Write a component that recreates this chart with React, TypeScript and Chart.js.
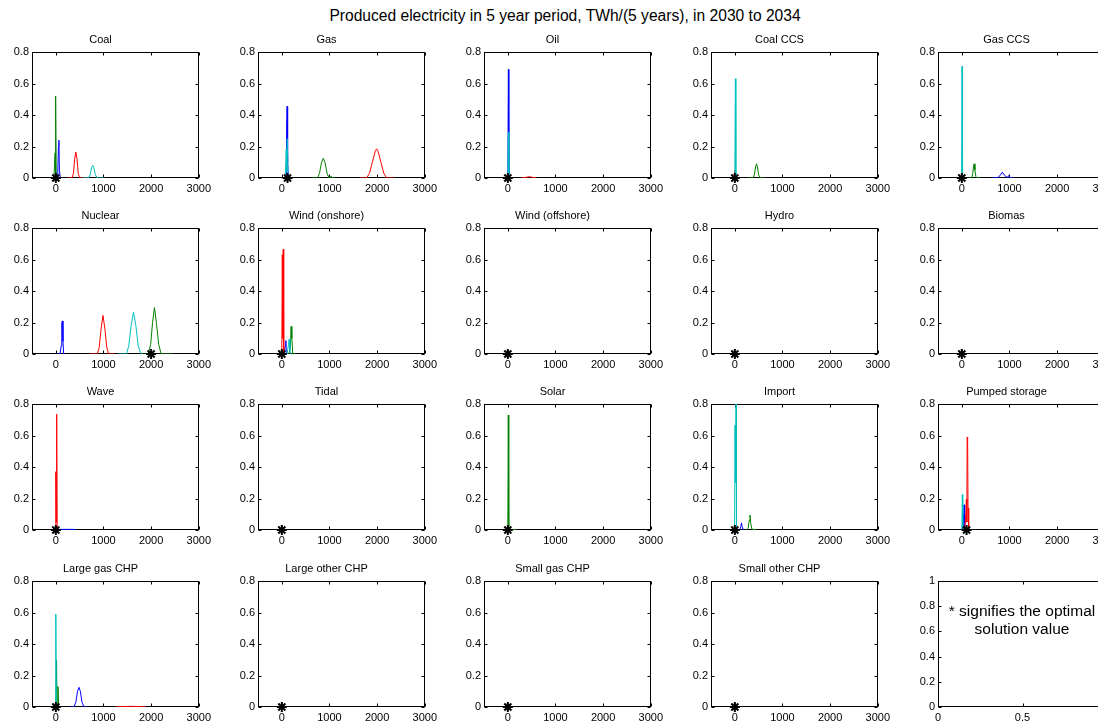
import React, { useEffect, useRef } from 'react';
import { Chart, registerables } from 'chart.js';

Chart.register(...registerables);

// ---------------- data ----------------
const mainTitle = 'Produced electricity in 5 year period, TWh/(5 years), in 2030 to 2034';
const noteLines = ['* signifies the optimal', 'solution value'];

const xTicks = [0, 1000, 2000, 3000];
const yTicks = [0, 0.2, 0.4, 0.6, 0.8];
const xRange = [-500, 3000];
const yRange = [0, 0.8];
const noteXTicks = [0, 0.5, 1];
const noteYTicks = [0, 0.2, 0.4, 0.6, 0.8, 1];

const panelTitles = [
  'Coal', 'Gas', 'Oil', 'Coal CCS', 'Gas CCS',
  'Nuclear', 'Wind (onshore)', 'Wind (offshore)', 'Hydro', 'Biomas',
  'Wave', 'Tidal', 'Solar', 'Import', 'Pumped storage',
  'Large gas CHP', 'Large other CHP', 'Small gas CHP', 'Small other CHP',
];
const optimalValues = [0, 120, 0, 0, 0, 2000, 0, 0, 0, 0, 0, 0, 0, 0, 100, 0, 0, 0, 0];

// distributions [value, probability]
const coalBlue = [[10, 0], [40, 0.02], [55, 0.2], [65, 0.24], [75, 0.05], [95, 0]];
const coalGreen = [[-40, 0], [-15, 0.16], [-8, 0.02], [0, 0.52], [8, 0.01], [40, 0]];
const coalRed = [[250, 0], [340, 0], [370, 0.03], [395, 0.12], [420, 0.165], [445, 0.12], [470, 0.03], [500, 0], [660, 0]];
const coalCyan = [[560, 0], [680, 0], [720, 0.02], [750, 0.065], [775, 0.08], [800, 0.065], [830, 0.02], [870, 0], [1020, 0]];

const gasBlue = [[60, 0], [90, 0.02], [100, 0.3], [110, 0.455], [118, 0.42], [126, 0.1], [140, 0]];
const gasGreen = [[630, 0], [750, 0], [790, 0.03], [835, 0.1], [870, 0.125], [905, 0.1], [950, 0.03], [990, 0], [1040, 0.01], [1060, 0], [1120, 0]];
const gasRed = [[1640, 0], [1780, 0], [1840, 0.03], [1900, 0.1], [1960, 0.17], [1990, 0.185], [2020, 0.17], [2080, 0.1], [2140, 0.03], [2200, 0], [2370, 0]];
const gasCyan = [[70, 0], [92, 0.18], [102, 0.04], [115, 0.25], [130, 0.02], [160, 0]];

const oilBlue = [[0, 0], [12, 0.69], [22, 0]];
const oilRed = [[280, 0], [380, 0.004], [450, 0.008], [520, 0.004], [600, 0]];
const oilCyan = [[0, 0], [12, 0.29], [22, 0]];

const coalCcsGreen = [[280, 0], [380, 0], [410, 0.02], [435, 0.07], [455, 0.09], [475, 0.07], [500, 0.02], [530, 0], [630, 0]];
const coalCcsRed = [[-20, 0], [0, 0.05], [20, 0]];
const coalCcsCyan = [[0, 0], [12, 0.63], [22, 0]];

const gasCcsBlue = [[640, 0], [750, 0.002], [800, 0.015], [850, 0.037], [900, 0.015], [950, 0.004], [990, 0.015], [1010, 0], [1090, 0]];
const gasCcsGreen = [[150, 0], [210, 0], [230, 0.03], [248, 0.08], [260, 0.09], [275, 0.05], [295, 0.01], [320, 0], [400, 0]];
const gasCcsCyan = [[-5, 0], [5, 0.71], [15, 0]];

const nuclearBlue = [[20, 0], [90, 0], [110, 0.05], [125, 0.2], [138, 0.21], [150, 0.08], [165, 0], [200, 0]];
const nuclearGreen = [[1800, 0], [1940, 0], [1990, 0.06], [2030, 0.2], [2070, 0.295], [2110, 0.2], [2160, 0.06], [2210, 0], [2450, 0]];
const nuclearRed = [[720, 0], [870, 0], [910, 0.04], [950, 0.16], [990, 0.245], [1030, 0.16], [1070, 0.04], [1110, 0], [1230, 0]];
const nuclearCyan = [[1310, 0], [1480, 0], [1530, 0.05], [1580, 0.18], [1630, 0.265], [1680, 0.18], [1730, 0.05], [1790, 0]];

const windOnBlue = [[50, 0], [70, 0.05], [85, 0.085], [95, 0], [120, 0]];
const windOnGreen = [[150, 0], [180, 0.05], [195, 0.175], [210, 0.1], [230, 0], [290, 0]];
const windOnRed = [[0, 0], [10, 0.63], [20, 0.1], [30, 0.665], [40, 0]];
const windOnCyan = [[110, 0], [140, 0.06], [155, 0.095], [170, 0.02], [190, 0]];

const waveBlue = [[0, 0.004], [390, 0.004], [400, 0]];
const waveRed = [[-10, 0], [0, 0.37], [8, 0.05], [18, 0.735], [28, 0]];

const solarGreen = [[0, 0], [10, 0.73], [20, 0.005], [190, 0]];

const importBlue = [[100, 0], [125, 0.02], [140, 0.045], [155, 0.02], [180, 0]];
const importGreen = [[240, 0], [280, 0.01], [300, 0.06], [318, 0.095], [335, 0.04], [360, 0.005], [460, 0]];
const importCyan = [[-5, 0], [5, 0.665], [15, 0.3], [25, 0.81], [35, 0]];

const pumpedBlue = [[15, 0], [28, 0.1], [38, 0.02], [48, 0.16], [60, 0]];
const pumpedRed = [[60, 0], [85, 0.1], [95, 0.195], [105, 0.05], [112, 0.59], [122, 0.58], [130, 0.14], [140, 0.02], [150, 0]];
const pumpedCyan = [[0, 0], [12, 0.225], [20, 0.02], [40, 0]];

const lgChpBlue = [[280, 0], [380, 0], [420, 0.03], [455, 0.1], [485, 0.125], [515, 0.1], [550, 0.03], [590, 0], [665, 0]];
const lgChpGreen = [[0, 0], [15, 0.3], [25, 0.02], [45, 0.13], [60, 0]];
const lgChpRed = [[1260, 0], [1400, 0.003], [1575, 0.004], [1750, 0.003], [1890, 0]];
const lgChpCyan = [[-10, 0], [0, 0.59], [10, 0], [40, 0]];

// ---------------- styles / layout ----------------
const COL = { b: '#0000ff', g: '#008000', r: '#ff0000', c: '#00bfbf' };
const FONT = '"Liberation Sans", Arial, Helvetica, sans-serif';
const colLefts = [32, 258, 484, 711, 938];
const rowTops = [52, 228, 404, 581];
const AX_W = 169;
const AX_H = 126;
const Y_AXIS_W = 32;
const X_AXIS_H = 22;
const TITLE_H = 22;
const PAD_R = 14;

const panelSeries = [
  [[COL.b, coalBlue], [COL.g, coalGreen], [COL.r, coalRed], [COL.c, coalCyan]],
  [[COL.b, gasBlue], [COL.g, gasGreen], [COL.r, gasRed], [COL.c, gasCyan]],
  [[COL.b, oilBlue], [COL.r, oilRed], [COL.c, oilCyan]],
  [[COL.g, coalCcsGreen], [COL.r, coalCcsRed], [COL.c, coalCcsCyan]],
  [[COL.b, gasCcsBlue], [COL.g, gasCcsGreen], [COL.c, gasCcsCyan]],
  [[COL.b, nuclearBlue], [COL.g, nuclearGreen], [COL.r, nuclearRed], [COL.c, nuclearCyan]],
  [[COL.b, windOnBlue], [COL.g, windOnGreen], [COL.r, windOnRed], [COL.c, windOnCyan]],
  [], [], [],
  [[COL.b, waveBlue], [COL.r, waveRed]],
  [],
  [[COL.g, solarGreen]],
  [[COL.b, importBlue], [COL.g, importGreen], [COL.c, importCyan]],
  [[COL.b, pumpedBlue], [COL.r, pumpedRed], [COL.c, pumpedCyan]],
  [[COL.b, lgChpBlue], [COL.g, lgChpGreen], [COL.r, lgChpRed], [COL.c, lgChpCyan]],
  [], [], [],
];

const boxPlugin = {
  id: 'matlabBox',
  beforeDatasetsDraw(chart: any) {
    const { ctx, chartArea: a, scales } = chart;
    const L = Math.round(a.left) + 0.5;
    const R = Math.round(a.right) - 0.5;
    const T = Math.round(a.top) + 0.5;
    const B = Math.round(a.bottom) - 0.5;
    const tl = 3;
    ctx.save();
    ctx.strokeStyle = '#000';
    ctx.lineWidth = 1;
    ctx.strokeRect(L, T, R - L, B - T);
    ctx.beginPath();
    scales.x.ticks.forEach((t: any) => {
      const px = Math.round(scales.x.getPixelForValue(t.value)) + 0.5;
      ctx.moveTo(px, B); ctx.lineTo(px, B - tl);
      ctx.moveTo(px, T); ctx.lineTo(px, T + tl);
    });
    scales.y.ticks.forEach((t: any) => {
      const py = Math.round(scales.y.getPixelForValue(t.value)) + 0.5;
      ctx.moveTo(L, py); ctx.lineTo(L + tl, py);
      ctx.moveTo(R, py); ctx.lineTo(R - tl, py);
    });
    ctx.stroke();
    ctx.restore();
  },
};

function Panel({ title, series, optimal, col, row, note }: any) {
  const ref = useRef<HTMLCanvasElement | null>(null);
  const w = Y_AXIS_W + AX_W + PAD_R;
  const h = TITLE_H + AX_H + X_AXIS_H;
  useEffect(() => {
    const datasets: any[] = (series || []).map((s: any, i: number) => ({
      data: s[1].map((p: number[]) => ({ x: p[0], y: p[1] })),
      borderColor: s[0],
      borderWidth: 1,
      pointRadius: 0,
      pointHitRadius: 0,
      tension: 0,
      fill: false,
      order: 10 - i,
    }));
    if (optimal !== undefined && optimal !== null) {
      datasets.push({
        data: [{ x: optimal, y: 0 }],
        showLine: false,
        pointStyle: 'star',
        pointRadius: 5,
        pointBorderColor: '#000',
        pointBackgroundColor: '#000',
        pointBorderWidth: 2,
        clip: false,
        order: -1,
      });
    }
    const xt = note ? noteXTicks : xTicks;
    const yt = note ? noteYTicks : yTicks;
    const tickFont = { family: FONT, size: 11 };
    const chart = new Chart(ref.current as HTMLCanvasElement, {
      type: 'line',
      data: { datasets },
      options: {
        responsive: false,
        animation: false,
        events: [],
        layout: { padding: { left: 0, right: PAD_R, top: title ? 0 : TITLE_H, bottom: 0 } },
        plugins: {
          legend: { display: false },
          tooltip: { enabled: false },
          title: {
            display: !!title,
            text: title || '',
            color: '#000',
            font: { family: FONT, size: 11, weight: 'normal', lineHeight: '14px' },
            padding: { top: 3, bottom: 5 },
          },
        },
        scales: {
          x: {
            type: 'linear',
            min: note ? 0 : xRange[0],
            max: note ? 1 : xRange[1],
            grid: { display: false, drawTicks: false, tickLength: 0 },
            border: { display: false },
            afterBuildTicks: (s: any) => { s.ticks = xt.map((v) => ({ value: v })); },
            afterFit: (s: any) => { s.height = X_AXIS_H; },
            ticks: { color: '#000', font: tickFont, padding: 4, maxRotation: 0, autoSkip: false, callback: (v: any) => String(v) },
          },
          y: {
            type: 'linear',
            min: note ? 0 : yRange[0],
            max: note ? 1 : yRange[1],
            grid: { display: false, drawTicks: false, tickLength: 0 },
            border: { display: false },
            afterBuildTicks: (s: any) => { s.ticks = yt.map((v) => ({ value: v })); },
            afterFit: (s: any) => { s.width = Y_AXIS_W; },
            ticks: { color: '#000', font: tickFont, padding: 3, autoSkip: false, callback: (v: any) => String(v) },
          },
        },
      } as any,
      plugins: [boxPlugin],
    });
    return () => chart.destroy();
  }, []);
  return (
    <canvas
      ref={ref}
      width={w}
      height={h}
      style={{ position: 'absolute', left: colLefts[col] - Y_AXIS_W, top: rowTops[row] - TITLE_H, width: w, height: h }}
    />
  );
}

export default function App() {
  return (
    <div style={{ position: 'fixed', left: 0, top: 0, width: 1098, height: 722, overflow: 'hidden', background: '#fff', fontFamily: FONT }}>
      <div style={{ position: 'absolute', left: 265, top: 7, width: 600, textAlign: 'center', fontSize: 15.6, lineHeight: '18px', color: '#000' }}>
        {mainTitle}
      </div>
      {panelTitles.map((t, i) => (
        <Panel key={i} title={t} series={panelSeries[i]} optimal={optimalValues[i]} col={i % 5} row={Math.floor(i / 5)} />
      ))}
      <Panel key="note" title="" series={[]} optimal={null} col={4} row={3} note />
      <div style={{ position: 'absolute', left: 922, top: 602, width: 200, textAlign: 'center', fontSize: 15.5, lineHeight: '18px', color: '#000' }}>
        {noteLines[0]}<br />{noteLines[1]}
      </div>
    </div>
  );
}
